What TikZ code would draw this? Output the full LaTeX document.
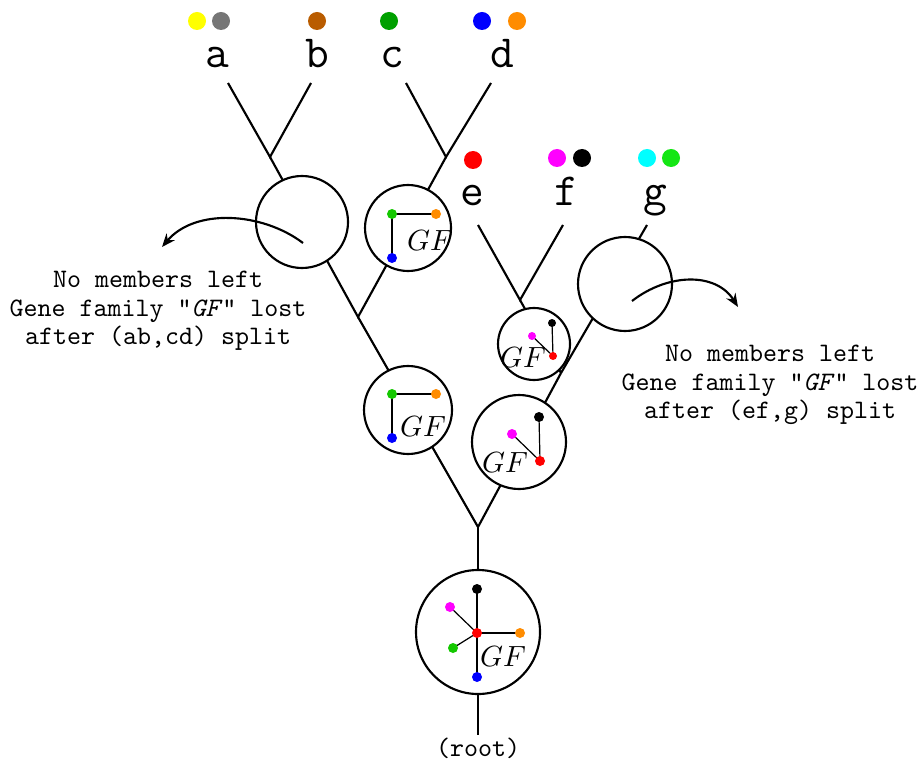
\documentclass[tikz,border=0pt]{standalone}
\usetikzlibrary{arrows.meta}
\definecolor{cYellow}{RGB}{255,255,0}
\definecolor{cGray}{RGB}{118,118,118}
\definecolor{cBrown}{RGB}{185,92,0}
\definecolor{cGreenD}{RGB}{0,160,0}
\definecolor{cGreen}{RGB}{20,200,0}
\definecolor{cLime}{RGB}{20,230,20}
\definecolor{cBlue}{RGB}{0,0,255}
\definecolor{cOrange}{RGB}{255,140,0}
\definecolor{cRed}{RGB}{255,0,0}
\definecolor{cMagenta}{RGB}{255,0,255}
\definecolor{cCyan}{RGB}{0,255,255}
\begin{document}
\begin{tikzpicture}[x=0.375pt,y=-0.375pt,
  edge/.style={line width=0.8pt},
  bubble/.style={circle,draw,line width=0.8pt,fill=white,inner sep=0pt},
  leaf/.style={font=\LARGE\ttfamily,anchor=base,inner sep=0pt},
  gf/.style={font=\fontsize{11}{13}\selectfont,inner sep=0pt},
  note/.style={font=\ttfamily,align=center,inner sep=0pt},
  link/.style={line width=0.45pt},
  lossarrow/.style={line width=0.8pt,-{Stealth[length=5pt,width=4pt]}}]
\useasboundingbox (0,0) rectangle (921,762);

% species colour markers
\fill[cYellow] (197,21) circle[radius=9];
\fill[cGray]   (221,21) circle[radius=9];
\fill[cBrown]  (317,21) circle[radius=9];
\fill[cGreenD] (389,21) circle[radius=9];
\fill[cBlue]   (482,21) circle[radius=9];
\fill[cOrange] (517,21) circle[radius=9];
\fill[cRed]    (473,160) circle[radius=9];
\fill[cMagenta](557,158) circle[radius=9];
\fill[black]   (582,158) circle[radius=9];
\fill[cCyan]   (647,158) circle[radius=9];
\fill[cLime]   (671,158) circle[radius=9];

% leaf labels
\node[leaf] (na) at (217,68) {a};
\node[leaf] (nb) at (317,68) {b};
\node[leaf] (nc) at (392,68) {c};
\node[leaf] (nd) at (502,68) {d};
\node[leaf] (ne) at (472,206) {e};
\node[leaf] (nf) at (566,206) {f};
\node[leaf] (ng) at (655,206) {g};

% tree vertices
\coordinate (la) at (228,83);
\coordinate (lb) at (311,83);
\coordinate (lc) at (406,83);
\coordinate (ld) at (491,83);
\coordinate (le) at (478,225);
\coordinate (lf) at (563,225);
\coordinate (lg) at (647,225);
\coordinate (ab) at (270,157);
\coordinate (cd) at (446,157);
\coordinate (abcd) at (358,317);
\coordinate (ef) at (520,300);
\coordinate (efg) at (561,373);
\coordinate (rt) at (478,527);
\coordinate (rtend) at (478,735);

% tree edges
\draw[edge] (la) -- (ab) -- (lb);
\draw[edge] (lc) -- (cd) -- (ld);
\draw[edge] (ab) -- (abcd) -- (cd);
\draw[edge] (le) -- (ef) -- (lf);
\draw[edge] (ef) -- (efg);
\draw[edge] (lg) -- (efg);
\draw[edge] (abcd) -- (rt) -- (efg);
\draw[edge] (rt) -- (rtend);

% gene family state along the tree
\node[bubble,minimum size=34.5pt] (lostab) at (302,222) {};
\node[bubble,minimum size=32.25pt] (gfcd) at (408,228) {};
\node[bubble,minimum size=33pt] (gfabcd) at (408,410) {};
\node[bubble,minimum size=27pt] (gfef) at (534,344) {};
\node[bubble,minimum size=35.25pt] (lostg) at (625,284) {};
\node[bubble,minimum size=35.25pt] (gfefg) at (519,442) {};
\node[bubble,minimum size=46.5pt] (gfroot) at (478,632) {};

% cd ancestor
\coordinate (cdG) at (392,214);
\coordinate (cdO) at (436,214);
\coordinate (cdB) at (392,258);
\draw[link] (cdO) -- (cdG) -- (cdB);
\fill[cGreen] (cdG) circle[radius=5];
\fill[cOrange] (cdO) circle[radius=5];
\fill[cBlue] (cdB) circle[radius=5];
\node[gf] (gf1) at (430,241) {$GF$};

% (ab,cd) ancestor
\coordinate (aG) at (392,394);
\coordinate (aO) at (436,394);
\coordinate (aB) at (392,438);
\draw[link] (aO) -- (aG) -- (aB);
\fill[cGreen] (aG) circle[radius=5];
\fill[cOrange] (aO) circle[radius=5];
\fill[cBlue] (aB) circle[radius=5];
\node[gf] (gf2) at (423,427) {$GF$};

% ef ancestor
\coordinate (eK) at (552,323);
\coordinate (eM) at (532,336);
\coordinate (eR) at (553,356);
\draw[link] (eK) -- (eR) -- (eM);
\fill[black] (eK) circle[radius=4];
\fill[cMagenta] (eM) circle[radius=4];
\fill[cRed] (eR) circle[radius=4];
\node[gf] (gf3) at (523,358) {$GF$};

% (ef,g) ancestor
\coordinate (fK) at (539,417);
\coordinate (fM) at (512,434);
\coordinate (fR) at (540,461);
\draw[link] (fK) -- (fR) -- (fM);
\fill[black] (fK) circle[radius=5];
\fill[cMagenta] (fM) circle[radius=5];
\fill[cRed] (fR) circle[radius=5];
\node[gf] (gf4) at (505,463) {$GF$};

% root
\coordinate (rK) at (477,589);
\coordinate (rM) at (450,607);
\coordinate (rR) at (477,633);
\coordinate (rO) at (520,633);
\coordinate (rG) at (453,648);
\coordinate (rB) at (477,677);
\draw[link] (rR) -- (rK);
\draw[link] (rR) -- (rM);
\draw[link] (rR) -- (rO);
\draw[link] (rR) -- (rG);
\draw[link] (rR) -- (rB);
\fill[black] (rK) circle[radius=5];
\fill[cMagenta] (rM) circle[radius=5];
\fill[cOrange] (rO) circle[radius=5];
\fill[cGreen] (rG) circle[radius=5];
\fill[cBlue] (rB) circle[radius=5];
\fill[cRed] (rR) circle[radius=5];
\node[gf] (gf5) at (503,657) {$GF$};

\node[font=\ttfamily,inner sep=0pt] (rootlbl) at (478,748) {(root)};

% losses
\coordinate (lossA) at (303,243);
\coordinate (lossAend) at (162,247);
\draw[lossarrow] (lossA) .. controls (262,212) and (195,208) .. (lossAend);
\node[note] (noteA) at (158,311) {No members left\\[-1.3pt]Gene family "\textit{GF}" lost\\[-1.3pt]after (ab,cd) split};

\coordinate (lossG) at (632,301);
\coordinate (lossGend) at (738,307);
\draw[lossarrow] (lossG) .. controls (668,273) and (716,272) .. (lossGend);
\node[note] (noteG) at (770,385) {No members left\\[-1.3pt]Gene family "\textit{GF}" lost\\[-1.3pt]after (ef,g) split};
\end{tikzpicture}
\end{document}
